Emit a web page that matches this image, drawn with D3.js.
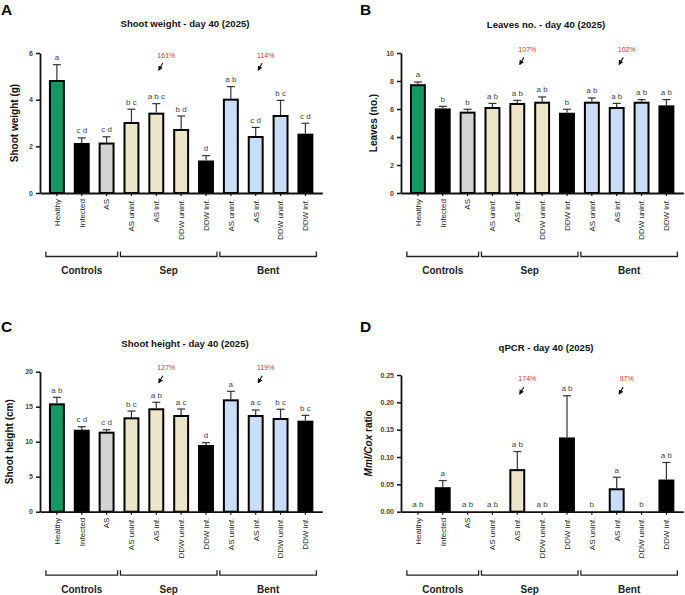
<!DOCTYPE html>
<html>
<head>
<meta charset="utf-8">
<script src="https://cdn.jsdelivr.net/npm/d3@7"></script>
<style>
body { margin: 0; background: #fff; }
svg { font-family: "Liberation Sans", Arial, sans-serif; }
</style>
</head>
<body>
<div id="chart"></div>
<script>
// categories (x axis), in order
var categories = ["Healthy", "Infected", "AS", "AS uninf.", "AS inf.", "DDW uninf.", "DDW inf.",
                  "AS uninf.", "AS inf.", "DDW uninf.", "DDW inf."];
var groups = [
    {name: "Controls", from: 0, to: 2},
    {name: "Sep", from: 3, to: 6},
    {name: "Bent", from: 7, to: 10}
];
var barColors = ["#139a62", "#000000", "#d3d3d3", "#ede5c9", "#ede5c9", "#ede5c9", "#000000",
                 "#c9def6", "#c9def6", "#c9def6", "#000000"];

// A - shoot weight (g)
var weightMean = [4.8, 2.1, 2.12, 3.0, 3.4, 2.7, 1.35, 4.0, 2.4, 3.3, 2.5];
var weightErr = [0.7, 0.26, 0.29, 0.59, 0.43, 0.6, 0.25, 0.56, 0.41, 0.67, 0.49];
var weightLetters = ["a", "c d", "c d", "b c", "a b c", "b d", "d", "a b", "c d", "b c", "c d"];
var weightNotes = [{cat: 4, text: "161%"}, {cat: 8, text: "114%"}];

// B - leaves number
var leavesMean = [7.7, 5.97, 5.74, 6.07, 6.36, 6.45, 5.66, 6.45, 6.07, 6.45, 6.19];
var leavesErr = [0.23, 0.22, 0.24, 0.33, 0.26, 0.41, 0.32, 0.34, 0.33, 0.22, 0.48];
var leavesLetters = ["a", "b", "b", "a b", "a b", "a b", "b", "a b", "a b", "a b", "a b"];
var leavesNotes = [{cat: 4, text: "107%"}, {cat: 8, text: "102%"}];

// C - shoot height (cm)
var heightMean = [15.34, 11.57, 11.29, 13.34, 14.63, 13.67, 9.39, 15.91, 13.67, 13.24, 12.86];
var heightErr = [1.0, 0.57, 0.42, 1.04, 1.0, 1.0, 0.47, 1.29, 0.86, 1.39, 0.91];
var heightLetters = ["a b", "c d", "c d", "b c", "a b", "a c", "d", "a", "a c", "b c", "b c"];
var heightNotes = [{cat: 4, text: "127%"}, {cat: 8, text: "119%"}];

// D - qPCR Mml/Cox ratio
var qpcrMean = [0, 0.043, 0, 0, 0.076, 0, 0.134, 0, 0.041, 0, 0.057];
var qpcrErr = [0, 0.014, 0, 0, 0.034, 0, 0.078, 0, 0.022, 0, 0.033];
var qpcrLetters = ["a b", "a", "a b", "a b", "a b", "a b", "a b", "b", "a", "b", "a b"];
var qpcrNotes = [{cat: 4, text: "174%"}, {cat: 8, text: "97%"}];

var panels = [
    {tag: "A", title: "Shoot weight - day 40 (2025)", ylabel: "Shoot weight (g)",
     ox: 40, oy: 193, h: 140, yMax: 6, ticks: [0, 2, 4, 6], fmt: d3.format("d"),
     mean: weightMean, err: weightErr, letters: weightLetters, notes: weightNotes, noteY: 5.91,
     titleY: 27, labelDx: -26, tagX: 1, tagY: 14.5},
    {tag: "B", title: "Leaves no. - day 40 (2025)", ylabel: "Leaves (no.)",
     ox: 401, oy: 193, h: 140, yMax: 10, ticks: [0, 2, 4, 6, 8, 10], fmt: d3.format("d"),
     mean: leavesMean, err: leavesErr, letters: leavesLetters, notes: leavesNotes, noteY: 10.26,
     titleY: 27.5, labelDx: -28, tagX: 360, tagY: 14.5},
    {tag: "C", title: "Shoot height - day 40 (2025)", ylabel: "Shoot height (cm)",
     ox: 40, oy: 511.7, h: 140, yMax: 20, ticks: [0, 5, 10, 15, 20], fmt: d3.format("d"),
     mean: heightMean, err: heightErr, letters: heightLetters, notes: heightNotes, noteY: 20.57,
     titleY: 346.5, labelDx: -31, tagX: 1, tagY: 332},
    {tag: "D", title: "qPCR - day 40 (2025)", ylabel: null,
     ox: 401, oy: 511.7, h: 136.7, yMax: 0.25, ticks: [0, 0.05, 0.1, 0.15, 0.2, 0.25], fmt: d3.format(".2f"),
     mean: qpcrMean, err: qpcrErr, letters: qpcrLetters, notes: qpcrNotes, noteY: 0.2427,
     titleY: 351, labelDx: -33, tagX: 360, tagY: 332}
];

var svg = d3.select("#chart").append("svg")
    .attr("width", 685)
    .attr("height", 595);

svg.append("defs").append("marker")
    .attr("id", "arrowhead")
    .attr("markerUnits", "userSpaceOnUse")
    .attr("markerWidth", 5).attr("markerHeight", 5)
    .attr("refX", 4).attr("refY", 2.5)
    .attr("orient", "auto")
    .append("path")
    .attr("d", "M0,0 L5,2.5 L0,5 Z")
    .attr("fill", "#111");

panels.forEach(function(p) {
    var g = svg.append("g");

    var x = d3.scaleBand()
        .domain(d3.range(categories.length))
        .range([p.ox, p.ox + 282.3])
        .paddingInner(0.44)
        .paddingOuter(0.4);

    var y = d3.scaleLinear()
        .domain([0, p.yMax])
        .range([p.oy, p.oy - p.h]);

    var cx = function(i) { return x(i) + x.bandwidth() / 2; };

    // panel tag
    g.append("text")
        .attr("x", p.tagX).attr("y", p.tagY)
        .style("font-size", "15.5px").style("font-weight", "bold")
        .attr("fill", "#000")
        .text(p.tag);

    // title
    g.append("text")
        .attr("x", p.ox + 145).attr("y", p.titleY)
        .attr("text-anchor", "middle")
        .style("font-size", "9.6px").style("font-weight", "bold")
        .attr("fill", "#111")
        .text(p.title);

    // bars
    g.selectAll(".bar")
        .data(p.mean)
        .enter().append("rect")
        .attr("x", function(d, i) { return x(i); })
        .attr("y", function(d) { return y(d); })
        .attr("width", x.bandwidth())
        .attr("height", function(d) { return p.oy - y(d); })
        .attr("fill", function(d, i) { return barColors[i]; })
        .attr("stroke", "#000")
        .attr("stroke-width", function(d) { return d > 0 ? 2 : 0; });

    // error bars (upper only)
    p.mean.forEach(function(m, i) {
        if (p.err[i] <= 0) return;
        var top = y(m + p.err[i]);
        g.append("line")
            .attr("x1", cx(i)).attr("x2", cx(i))
            .attr("y1", y(m) - 1).attr("y2", top)
            .attr("stroke", "#333").attr("stroke-width", 1.2);
        g.append("line")
            .attr("x1", cx(i) - 4).attr("x2", cx(i) + 4)
            .attr("y1", top).attr("y2", top)
            .attr("stroke", "#333").attr("stroke-width", 1.2);
    });

    // significance letters
    g.selectAll(".sig")
        .data(p.letters)
        .enter().append("text")
        .attr("x", function(d, i) { return cx(i); })
        .attr("y", function(d, i) { return y(p.mean[i] + p.err[i]) - 4.5; })
        .attr("text-anchor", "middle")
        .style("font-size", "8px")
        .attr("fill", "#444")
        .text(function(d) { return d; });

    // percentage notes with arrows
    p.notes.forEach(function(n) {
        var tc = y(p.noteY);
        g.append("text")
            .attr("x", cx(n.cat) + 10).attr("y", tc + 2.5)
            .attr("text-anchor", "middle")
            .style("font-size", "7px")
            .attr("fill", "#cc3333")
            .text(n.text);
        g.append("line")
            .attr("x1", cx(n.cat) + 6.5).attr("y1", tc + 8)
            .attr("x2", cx(n.cat) + 2.5).attr("y2", tc + 15)
            .attr("stroke", "#111").attr("stroke-width", 1.1)
            .attr("marker-end", "url(#arrowhead)");
    });

    // y axis
    var yAxis = g.append("g")
        .attr("transform", "translate(" + p.ox + ",0)")
        .call(d3.axisLeft(y).tickValues(p.ticks).tickFormat(p.fmt).tickSize(4).tickSizeOuter(0));
    yAxis.select(".domain").attr("stroke", "#111").attr("stroke-width", 1.8);
    yAxis.selectAll(".tick line").attr("stroke", "#111").attr("stroke-width", 1.5);
    yAxis.selectAll(".tick text")
        .style("font-size", "7px").style("font-weight", "bold")
        .style("font-family", "'Liberation Sans', Arial, sans-serif")
        .attr("fill", "#444");

    // x axis
    var xAxis = g.append("g")
        .attr("transform", "translate(0," + p.oy + ")")
        .call(d3.axisBottom(x).tickSize(3).tickSizeOuter(0).tickFormat(""));
    xAxis.select(".domain").attr("stroke", "#111").attr("stroke-width", 1.8);
    xAxis.selectAll(".tick line").attr("stroke", "#111").attr("stroke-width", 1.2);

    // rotated category labels
    g.selectAll(".cat")
        .data(categories)
        .enter().append("text")
        .attr("transform", function(d, i) { return "translate(" + cx(i) + "," + (p.oy + 6) + ") rotate(-90)"; })
        .attr("text-anchor", "end")
        .attr("dy", "0.35em")
        .style("font-size", "8px")
        .attr("fill", "#222")
        .text(function(d) { return d; });

    // group brackets
    groups.forEach(function(gr) {
        var x0 = cx(gr.from) - 11, x1 = cx(gr.to) + 11, by = p.oy + 63.5;
        g.append("path")
            .attr("d", "M" + x0 + "," + (by - 5) + "V" + by + "H" + x1 + "V" + (by - 5))
            .attr("fill", "none")
            .attr("stroke", "#222").attr("stroke-width", 1.3);
        g.append("text")
            .attr("x", (x0 + x1) / 2).attr("y", p.oy + 81)
            .attr("text-anchor", "middle")
            .style("font-size", "10px").style("font-weight", "bold")
            .attr("fill", "#222")
            .text(gr.name);
    });

    // y axis label
    var lab = g.append("text")
        .attr("transform", "translate(" + (p.ox + p.labelDx) + "," + (p.oy - p.h / 2) + ") rotate(-90)")
        .attr("text-anchor", "middle")
        .attr("dy", "0.35em")
        .style("font-size", "10px").style("font-weight", "bold")
        .attr("fill", "#111");
    if (p.ylabel) {
        lab.text(p.ylabel);
    } else {
        lab.append("tspan").style("font-style", "italic").text("Mml/Cox");
        lab.append("tspan").text(" ratio");
    }
});
</script>
</body>
</html>
